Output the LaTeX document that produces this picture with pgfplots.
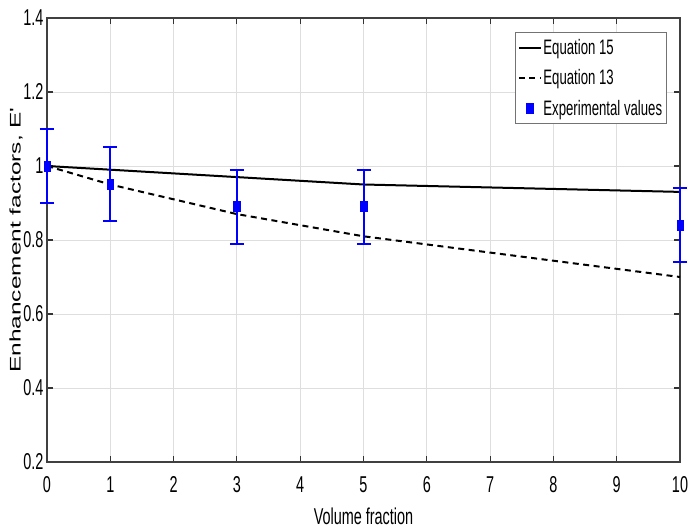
\documentclass[border=0pt]{standalone}
\usepackage{fontspec}
\setmainfont{Liberation Sans}[FakeStretch=0.63]
\newfontfamily\ylabfont{Liberation Sans}
\usepackage{graphicx}
\usepackage{pgfplots}
\pgfplotsset{compat=1.18}
\usetikzlibrary{calc}
\begin{document}
\begin{tikzpicture}
\begin{axis}[
  scale only axis, width=633bp, height=444bp,
  set layers, clip=false,
  xmin=0, xmax=10, ymin=0.2, ymax=1.4,
  xtick={0,1,2,3,4,5,6,7,8,9,10},
  ytick={0.2,0.4,0.6,0.8,1,1.2,1.4},
  grid=major, grid style={black!13, line width=0.9bp},
  axis line style={black!75, line width=1.3bp},
  tick style={black!80, line width=1.1bp},
  major tick length=6bp, tick align=inside,
  /pgf/number format/assume math mode=true,
  ticklabel style={font=\fontsize{23}{23}\selectfont},
  xticklabel style={yshift=-11bp},
  xlabel={Volume fraction},
  xlabel style={font=\fontsize{23}{23}\selectfont, yshift=-8bp},
  ylabel={\scalebox{1}[0.63]{\ylabfont\fontsize{24.5}{24.5}\selectfont Enhancement factors, E'}},
  ylabel shift=-6bp,
  legend style={at={(0.9795,0.968)}, anchor=north east, draw=black!55, line width=0.8bp,
    font=\fontsize{21}{21}\selectfont, row sep=9.5bp, inner xsep=3bp, inner ysep=5bp,
    nodes={inner xsep=1.5bp}},
  legend image code/.code={\draw[mark repeat=2,mark phase=2,#1] plot coordinates {(0bp,0bp)(11bp,0bp)(22bp,0bp)};},
  legend cell align=left,
]
\addplot[black, line width=2bp] coordinates {(0,1) (1,0.99) (3,0.97) (5,0.95) (10,0.93)};
\addlegendentry{Equation 15}
\addplot[black, line width=2bp, dash pattern=on 6bp off 4.5bp] coordinates {(0,1) (1,0.95) (3,0.87) (5,0.81) (10,0.70)};
\addlegendentry{Equation 13}
\addplot[blue, line width=2bp, only marks, mark=square*, mark size=5bp,
  mark options={xscale=0.65, solid, fill=blue, draw=blue, line width=0.5bp},
  error bars/.cd, y dir=both, y explicit,
  error bar style={blue, line width=2bp, solid},
  error mark options={blue, line width=2bp, mark size=7bp, rotate=90, xscale=1}]
  coordinates {
  (0,1.00) +- (0,0.10)
  (1,0.95) +- (0,0.10)
  (3,0.89) +- (0,0.10)
  (5,0.89) +- (0,0.10)
  (10,0.84) +- (0,0.10)
  };
\addlegendentry{Experimental values}
\coordinate (BL) at (rel axis cs:0,0);
\coordinate (TR) at (rel axis cs:1,1);
\end{axis}
\pgfresetboundingbox
\path ($(BL)+(-47bp,-70bp)$) rectangle ($(TR)+(8bp,18bp)$);
\end{tikzpicture}
\end{document}
